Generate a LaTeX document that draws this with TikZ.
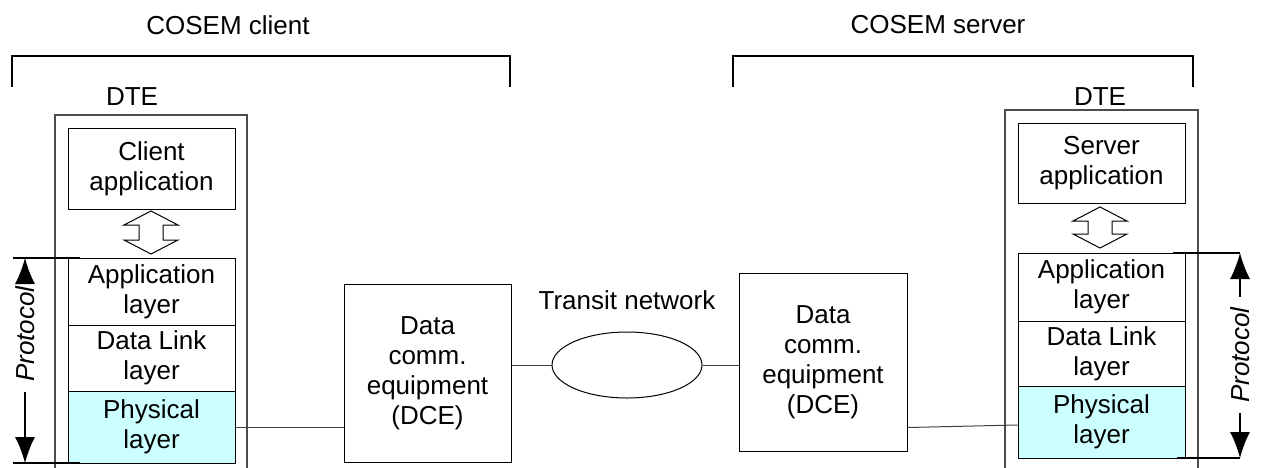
\documentclass[tikz,border=0pt]{standalone}
\usepackage{fontspec}
\setmainfont{Liberation Sans}
\usetikzlibrary{arrows.meta,shapes.geometric,calc}
\definecolor{phys}{HTML}{CCFFFF}
\begin{document}
\begin{tikzpicture}[x=0.5pt,y=-0.5pt,
  every node/.style={font=\fontsize{13}{15}\selectfont, align=center, inner sep=0pt},
  layerbox/.style={draw, line width=0.5pt, minimum width=83.5pt},
  dtebox/.style={draw=black!70, line width=0.6pt},
  dcebox/.style={draw, line width=0.5pt, minimum width=83.5pt, minimum height=89pt},
  link/.style={draw=black!75, line width=0.5pt},
  bracketline/.style={line width=1pt},
  prot/.style={-{Latex[length=13pt,width=10pt]}, line width=0.6pt},
  tick/.style={line width=0.6pt},
  dblarrow/.style={draw, line width=0.5pt, fill=white}
]
\useasboundingbox (0,0) rectangle (1263,467);
\clip (0,0) rectangle (1263,467);

% top labels and brackets
\node (cc) at (228,25) {COSEM client};
\node (cs) at (938,25) {COSEM server};
\draw[bracketline] (12,87) -- (12,56) -- (510,56) -- (510,87);
\draw[bracketline] (733,87) -- (733,56) -- (1193,56) -- (1193,87);

% left DTE
\node (ldte) at (132,97) {DTE};
\draw[dtebox] (55,480) -- (55,115) -- (247,115) -- (247,480);
\node[layerbox, minimum height=40.5pt] (lapp) at (151.5,168.5) {Client\\application};
\node[layerbox, minimum height=33.5pt] (lal) at (151.5,291.5) {Application\\layer};
\node[layerbox, minimum height=33pt] (ldl) at (151.5,358) {Data Link\\layer};
\node[layerbox, minimum height=36pt, fill=phys] (lph) at (151.5,427) {Physical\\layer};
\draw[dblarrow] (151,211) -- (178,225) -- (163,225) -- (163,240) -- (178,240) -- (151,254)
  -- (124,240) -- (139,240) -- (139,225) -- (124,225) -- cycle;

% left protocol
\coordinate (lpt) at (25,258);
\coordinate (lpb) at (25,463);
\draw[tick] (13,258) -- (80,258);
\draw[tick] (13,463) -- (80,463);
\node[rotate=90, inner sep=5pt] (lprot) at (25,334) {\itshape Protocol};
\draw[prot] (lprot.east) -- (lpt);
\draw[prot] (lprot.west) -- (lpb);

% DCEs and network
\node[dcebox] (ldce) at (427.5,373) {Data\\comm.\\equipment\\(DCE)};
\node[draw, ellipse, line width=0.5pt, minimum width=75pt, minimum height=33pt] (net) at (627,365) {};
\node (tn) at (627,300) {Transit network};
\node[dcebox, minimum width=84pt] (rdce) at (823,362) {Data\\comm.\\equipment\\(DCE)};

% right DTE
\node (rdte) at (1100,97) {DTE};
\draw[dtebox] (1005,480) -- (1005,110) -- (1198,110) -- (1198,480);
\node[layerbox, minimum height=40pt] (rapp) at (1101.5,163) {Server\\application};
\node[layerbox, minimum height=34pt] (ral) at (1101.5,287) {Application\\layer};
\node[layerbox, minimum height=32.5pt] (rdl) at (1101.5,353.5) {Data Link\\layer};
\node[layerbox, minimum height=36pt, fill=phys] (rph) at (1101.5,422) {Physical\\layer};
\draw[dblarrow] (1100,207) -- (1127,221) -- (1112,221) -- (1112,234) -- (1127,234) -- (1100,248)
  -- (1073,234) -- (1088,234) -- (1088,221) -- (1073,221) -- cycle;

% right protocol
\coordinate (rpt) at (1240,253);
\coordinate (rpb) at (1240,458);
\draw[tick] (1173,253) -- (1240,253);
\draw[tick] (1177,458) -- (1240,458);
\node[rotate=90, inner sep=5pt] (rprot) at (1240,355) {\itshape Protocol};
\draw[prot] (rprot.east) -- (rpt);
\draw[prot] (rprot.west) -- (rpb);

% connectors
\draw[link] (lph.east) -- (lph.east -| ldce.west);
\draw[link] (net.west) -- (net.west -| ldce.east);
\draw[link] (net.east) -- (net.east -| rdce.west);
\draw[link] ($(rdce.south east)+(0,-24)$) -- ($(rph.west)+(0,3)$);
\end{tikzpicture}
\end{document}
